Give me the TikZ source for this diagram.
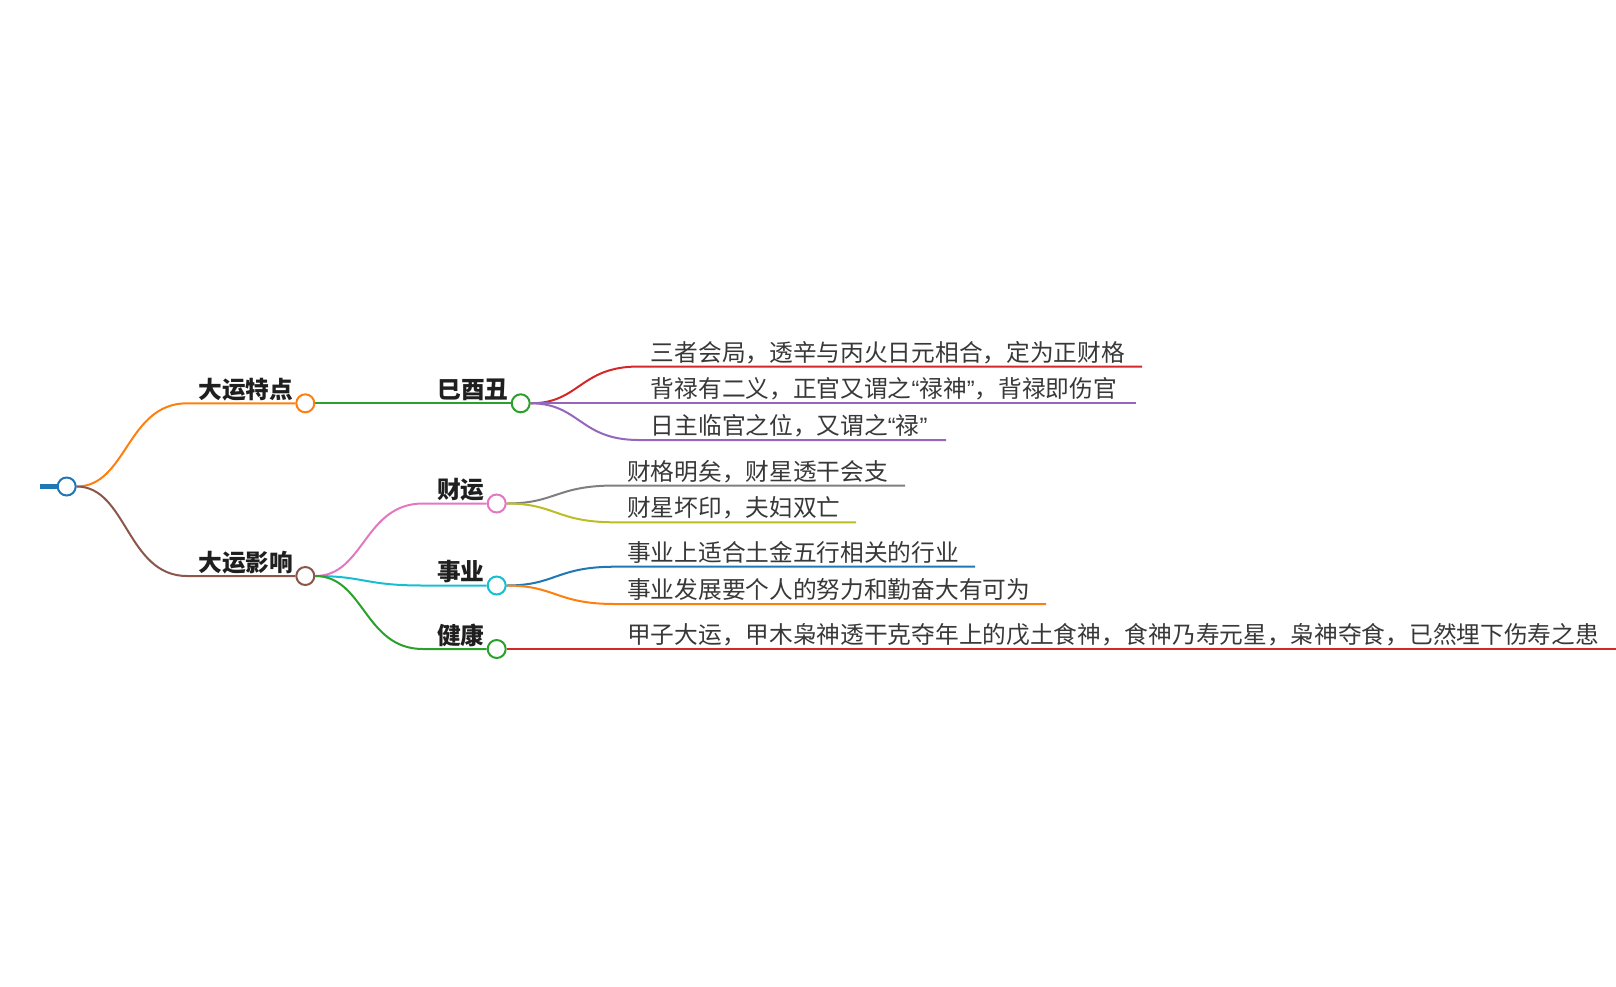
\documentclass[tikz,border=0pt]{standalone}
\usepackage{fontspec}
\usepackage{tikz}
\usetikzlibrary{calc,backgrounds}
\newfontfamily\cjk{Noto Sans CJK SC}
\newfontfamily\latin{Liberation Sans}
\definecolor{mmblue}{HTML}{1F77B4}
\definecolor{mmorange}{HTML}{FF7F0E}
\definecolor{mmgreen}{HTML}{2CA02C}
\definecolor{mmred}{HTML}{D62728}
\definecolor{mmpurple}{HTML}{9467BD}
\definecolor{mmbrown}{HTML}{8C564B}
\definecolor{mmpink}{HTML}{E377C2}
\definecolor{mmgray}{HTML}{7F7F7F}
\definecolor{mmolive}{HTML}{BCBD22}
\definecolor{mmcyan}{HTML}{17BECF}
\newcommand{\cnquote}[1]{{\latin “}#1{\latin ”}}

\begin{document}
\begin{tikzpicture}[x=1pt,y=-1pt,
  dot/.style={circle,draw=#1,fill=white,line width=2pt,minimum size=18pt,inner sep=0pt},
  branch/.style={anchor=base east,inner sep=0pt,text=black!88,font=\cjk\bfseries\fontsize{23.7}{28}\selectfont},
  leaf/.style={anchor=base west,inner sep=0pt,text=black!78,font=\cjk\fontsize{23.7}{28}\selectfont},
  link/.style={draw=#1,line width=2pt},
  mmcurve/.style={to path={let \p1=(\tikztostart),\p2=(\tikztotarget),\n1={(\x1+\x2)/2} in
    .. controls (\n1,\y1) and (\n1,\y2) .. (\tikztotarget)}}]
\useasboundingbox (0,0) rectangle (1616,986);

\node[dot=mmblue] (root) at (66.7,486.5) {};
\coordinate (stub) at (40,486.5);

\node[dot=mmorange] (ts) at (305.3,403.3) {};
\coordinate (ts-l) at (187,403.3);
\node[branch] (ts-t) at ($(ts)+(-12,-5)$) {大运特点};
\node[dot=mmbrown] (ys) at (305.3,576) {};
\coordinate (ys-l) at (187,576);
\node[branch] (ys-t) at ($(ys)+(-12,-5)$) {大运影响};

\node[dot=mmgreen] (yyc) at (520.7,403.3) {};
\node[branch] (yyc-t) at ($(yyc)+(-12,-5)$) {巳酉丑};
\node[dot=mmpink] (cy) at (496.7,503.5) {};
\coordinate (cy-l) at (423,503.5);
\node[branch] (cy-t) at ($(cy)+(-12,-5)$) {财运};
\node[dot=mmcyan] (sy) at (496.7,585.5) {};
\coordinate (sy-l) at (423,585.5);
\node[branch] (sy-t) at ($(sy)+(-12,-5)$) {事业};
\node[dot=mmgreen] (jk) at (496.7,649) {};
\coordinate (jk-l) at (423,649);
\node[branch] (jk-t) at ($(jk)+(-12,-5)$) {健康};

\coordinate (l1-l) at (638.7,366.5);
\coordinate (l1-r) at (1142,366.5);
\node[leaf] (l1) at ($(l1-l)+(12,-5.5)$) {三者会局，透辛与丙火日元相合，定为正财格};
\coordinate (l2-l) at (638.7,403.3);
\coordinate (l2-r) at (1136,403.3);
\node[leaf] (l2) at ($(l2-l)+(12,-5.5)$) {背禄有二义，正官又谓之\cnquote{禄神}，背禄即伤官};
\coordinate (l3-l) at (638.7,440);
\coordinate (l3-r) at (946,440);
\node[leaf] (l3) at ($(l3-l)+(12,-5.5)$) {日主临官之位，又谓之\cnquote{禄}};

\coordinate (c1-l) at (615,485.5);
\coordinate (c1-r) at (905,485.5);
\node[leaf] (c1) at ($(c1-l)+(12,-5.5)$) {财格明矣，财星透干会支};
\coordinate (c2-l) at (615,522.3);
\coordinate (c2-r) at (856,522.3);
\node[leaf] (c2) at ($(c2-l)+(12,-5.5)$) {财星坏印，夫妇双亡};

\coordinate (s1-l) at (615,566.7);
\coordinate (s1-r) at (975,566.7);
\node[leaf] (s1) at ($(s1-l)+(12,-5.5)$) {事业上适合土金五行相关的行业};
\coordinate (s2-l) at (615,604);
\coordinate (s2-r) at (1046,604);
\node[leaf] (s2) at ($(s2-l)+(12,-5.5)$) {事业发展要个人的努力和勤奋大有可为};

\coordinate (j1-l) at (615,649);
\coordinate (j1-r) at (1616,649);
\node[leaf] (j1) at ($(j1-l)+(12,-5.5)$) {甲子大运，甲木枭神透干克夺年上的戊土食神，食神乃寿元星，枭神夺食，已然埋下伤寿之患};

\begin{scope}[on background layer]
\draw[mmblue,line width=5pt] (stub) -- (root);
\draw[link=mmorange] (root) to[mmcurve] (ts-l) -- (ts);
\draw[link=mmbrown] (root) to[mmcurve] (ys-l) -- (ys);
\draw[link=mmgreen] (ts) -- (yyc);
\draw[link=mmpink] (ys) to[mmcurve] (cy-l) -- (cy);
\draw[link=mmcyan] (ys) to[mmcurve] (sy-l) -- (sy);
\draw[link=mmgreen] (ys) to[mmcurve] (jk-l) -- (jk);
\draw[link=mmred] (yyc) to[mmcurve] (l1-l) -- (l1-r);
\draw[link=mmpurple] (yyc) to[mmcurve] (l2-l) -- (l2-r);
\draw[link=mmpurple] (yyc) to[mmcurve] (l3-l) -- (l3-r);
\draw[link=mmgray] (cy) to[mmcurve] (c1-l) -- (c1-r);
\draw[link=mmolive] (cy) to[mmcurve] (c2-l) -- (c2-r);
\draw[link=mmblue] (sy) to[mmcurve] (s1-l) -- (s1-r);
\draw[link=mmorange] (sy) to[mmcurve] (s2-l) -- (s2-r);
\draw[link=mmred] (jk) to[mmcurve] (j1-l) -- (j1-r);
\end{scope}
\end{tikzpicture}
\end{document}
